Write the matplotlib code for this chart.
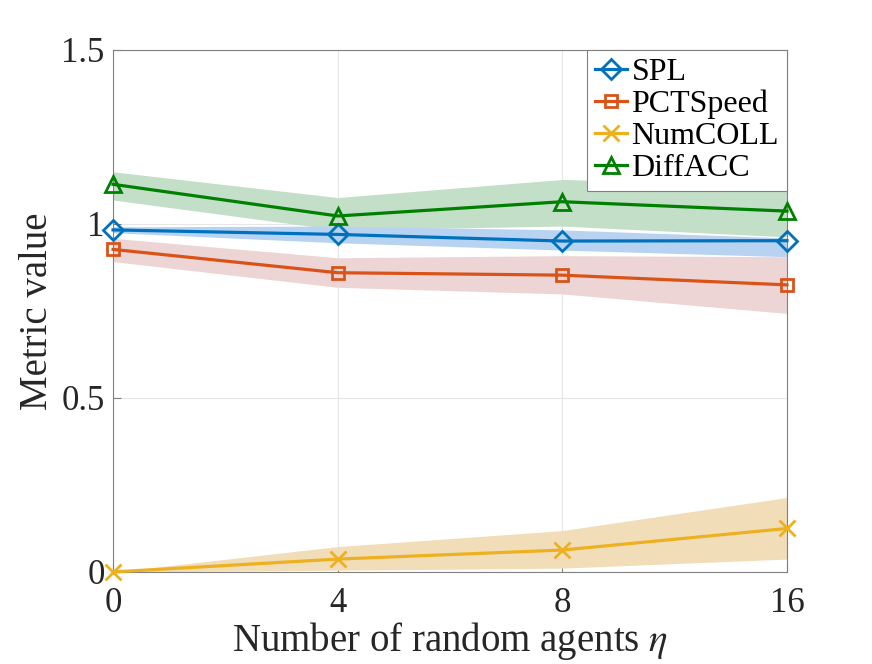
import matplotlib
matplotlib.use("Agg")
import matplotlib.pyplot as plt
import numpy as np

plt.rcParams['font.family'] = ['Liberation Serif', 'DejaVu Serif']
plt.rcParams['mathtext.fontset'] = 'stix'

x_labels = ['0', '4', '8', '16']

spl = [0.983, 0.970, 0.951, 0.952]
spl_lo = [0.975, 0.946, 0.925, 0.906]
spl_hi = [0.992, 0.994, 0.983, 0.960]

pct = [0.927, 0.860, 0.853, 0.825]
pct_lo = [0.892, 0.818, 0.799, 0.743]
pct_hi = [0.959, 0.903, 0.909, 0.906]

coll = [0.0, 0.037, 0.063, 0.125]
coll_lo = [0.0, 0.005, 0.011, 0.037]
coll_hi = [0.0, 0.073, 0.119, 0.214]

acc = [1.114, 1.023, 1.064, 1.037]
acc_lo = [1.069, 0.983, 0.994, 0.963]
acc_hi = [1.150, 1.076, 1.128, 1.110]

fig = plt.figure(figsize=(8.72, 6.64), dpi=100)
ax = fig.add_axes([0.1296, 0.1386, 0.7729, 0.7861])
xs = np.arange(len(x_labels))

ax.fill_between(xs, acc_lo, acc_hi, color='#C3DFC7', lw=0, zorder=1)
ax.fill_between(xs, spl_lo, spl_hi, color='#B8D3F2', lw=0, zorder=1.1)
ax.fill_between(xs, pct_lo, pct_hi, color='#EDD5D5', lw=0, zorder=1.2)
ax.fill_between(xs, coll_lo, coll_hi, color='#F2DDB9', lw=0, zorder=1.3)

base = dict(lw=2.3, markeredgewidth=2, markerfacecolor='none', clip_on=False, zorder=3)
ax.plot(xs, spl, color='#0072BD', marker='D', label='SPL', markersize=10, **base)
ax.plot(xs, pct, color='#D95319', marker='s', label='PCTSpeed', markersize=8, **base)
ax.plot(xs, coll, color='#EDB120', marker='x', label='NumCOLL', markersize=11, **base)
ax.plot(xs, acc, color='#008000', marker='^', label='DiffACC', markersize=11, **base)

ax.set_xlim(0, 3)
ax.set_ylim(0, 1.5)
ax.set_xticks(xs)
ax.set_xticklabels(x_labels)
ax.set_yticks([0, 0.5, 1, 1.5])
ax.set_yticklabels(['0', '0.5', '1', '1.5'])
ax.grid(True, color='#E6E6E6', lw=0.8, zorder=0)
ax.set_axisbelow(True)
for s in ax.spines.values():
    s.set_color('#808080')
    s.set_linewidth(0.8)
ax.tick_params(direction='in', length=6, colors='#262626', labelsize=25, color='#808080')
ax.tick_params(axis='x', pad=11)
ax.tick_params(axis='y', pad=6)
ax.set_xlabel(r'Number of random agents $\eta$', fontsize=28, color='#262626', labelpad=0)
ax.set_ylabel('Metric value', fontsize=28, color='#262626', labelpad=4)

leg = ax.legend(loc='upper right', fontsize=23, handlelength=1.0, handletextpad=0.15,
                borderaxespad=0, borderpad=0.25, labelspacing=0.08, fancybox=False,
                framealpha=1, edgecolor='#808080')
leg.get_frame().set_linewidth(0.8)
leg.set_zorder(5)

fig.savefig('out.png', dpi=100)
